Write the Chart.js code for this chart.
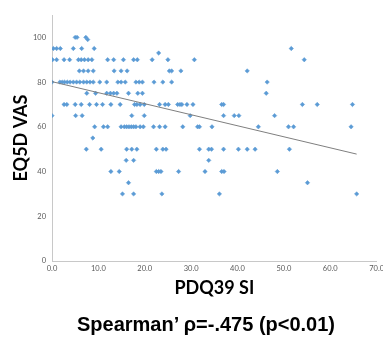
<!DOCTYPE html>
<html>
<head>
<meta charset="utf-8">
<script src="https://cdn.jsdelivr.net/npm/chart.js@4"></script>
<style>
  body { margin: 0; background: #fff; }
  #wrap { position: relative; width: 383px; height: 337px; overflow: hidden; }
  #note {
    position: absolute; left: 206px; top: 314px; transform: translateX(-50%);
    font: bold 20px "Liberation Sans", Arial, sans-serif; line-height: 20px;
    white-space: nowrap; color: #000;
  }
</style>
</head>
<body>
<div id="wrap">
  <canvas id="chart" width="387" height="337"></canvas>
  <div id="note">Spearman’ ρ=-.475 (p&lt;0.01)</div>
</div>
<script>
// --- Data ---
// EQ5D VAS levels, and the PDQ39 SI values of the patients at each level
const vasLevels = [100, 99, 95, 93, 90, 85, 80, 75, 70, 65, 60, 55, 50, 45, 40, 35, 30];
const pdqAtLevel = [
  [5.0, 5.4, 7.3],
  [7.7],
  [0.3, 1.0, 1.8, 4.6, 6.4, 9.1, 51.6],
  [23.0],
  [0.1, 1.0, 2.6, 3.8, 5.7, 6.3, 7.0, 7.8, 8.6, 12.0, 13.3, 15.4, 17.6, 18.4, 21.6, 25.0, 30.7, 54.4],
  [5.9, 6.8, 7.8, 8.9, 13.4, 14.9, 16.2, 25.3, 25.8, 27.8, 42.1],
  [0, 1.7, 2.2, 2.7, 3.3, 3.9, 4.6, 5.3, 6.0, 6.8, 7.5, 8.2, 8.9, 10.3, 11.8, 14.2, 14.9, 15.8,
   18.1, 18.8, 19.5, 22.0, 23.9, 25.8, 46.4],
  [7.5, 9.4, 11.8, 12.6, 13.3, 14.0, 16.5, 18.5, 19.5, 46.2],
  [2.6, 3.2, 5.0, 6.3, 8.1, 9.6, 10.9, 12.7, 14.7, 17.8, 18.3, 19.0, 19.9, 23.2, 24.4, 25.1,
   27.1, 27.6, 28.0, 29.1, 30.4, 36.6, 37.0, 54.0, 57.2, 64.8],
  [0, 5.1, 6.5, 17.2, 19.9, 29.8, 37.0, 39.3, 40.3, 48.0],
  [9.2, 11.1, 12.0, 14.9, 15.6, 16.1, 16.6, 17.1, 17.6, 18.1, 19.0, 19.7, 21.9, 23.2, 24.4,
   28.2, 31.4, 31.8, 34.5, 44.5, 51.0, 52.1, 64.5],
  [8.8],
  [7.4, 10.6, 16.1, 17.2, 18.3, 22.5, 23.9, 24.6, 31.8, 33.8, 34.4, 37.0, 40.2, 42.1, 43.8, 51.2],
  [16.0, 17.6, 33.8],
  [12.7, 14.5, 22.5, 23.0, 23.5, 27.3, 33.0, 36.6, 37.1, 48.6],
  [16.5, 55.1],
  [15.2, 17.6, 23.7, 36.1, 65.7]
];
// linear trend line end points
const trendX = [0, 65.7];
const trendY = [80.2, 47.8];

// axis ranges
const xMin = 0, xMax = 70, xStep = 10;
const yMin = 0, yMax = 110, yStep = 20;

// build point list for the scatter
const points = [];
vasLevels.forEach(function (vas, i) {
  pdqAtLevel[i].forEach(function (pdq) {
    points.push({ x: pdq, y: vas });
  });
});
const trendPoints = trendX.map(function (x, i) { return { x: x, y: trendY[i] }; });

const tickFont = { family: 'Lato, "Liberation Sans", sans-serif', size: 7.5 };
const titleFont = { family: 'Lato, "Liberation Sans", sans-serif', size: 18, weight: 'bold' };

const ctx = document.getElementById('chart').getContext('2d');
const chart = new Chart(ctx, {
  type: 'scatter',
  data: {
    datasets: [
      {
        label: 'Trend',
        type: 'line',
        data: trendPoints,
        borderColor: '#7f7f7f',
        borderWidth: 1,
        pointRadius: 0,
        fill: false,
        order: 1
      },
      {
        label: 'Patients',
        data: points,
        pointStyle: 'rectRot',
        pointRadius: 2.2,
        backgroundColor: '#5b9bd5',
        borderColor: '#5b9bd5',
        borderWidth: 0.5,
        order: 2
      }
    ]
  },
  options: {
    responsive: false,
    animation: false,
    layout: { padding: { top: 15, right: 0, bottom: 33, left: 0 } },
    plugins: {
      legend: { display: false },
      tooltip: { enabled: false }
    },
    scales: {
      x: {
        type: 'linear',
        min: xMin,
        max: xMax,
        grid: { display: false, drawTicks: false },
        border: { display: true, color: '#c8c8c8', width: 1 },
        ticks: {
          stepSize: xStep,
          padding: 3,
          color: '#595959',
          font: tickFont,
          maxRotation: 0,
          callback: function (v) { return v.toFixed(1); }
        },
        title: {
          display: true,
          text: 'PDQ39 SI',
          color: '#000',
          font: titleFont,
          padding: { top: 0, bottom: 5 }
        },
        afterFit: function (s) { s.height = 43; }
      },
      y: {
        type: 'linear',
        min: yMin,
        max: yMax,
        grid: { display: false, drawTicks: false },
        border: { display: true, color: '#c8c8c8', width: 1 },
        ticks: {
          stepSize: yStep,
          includeBounds: false,
          padding: 6,
          color: '#595959',
          font: tickFont
        },
        title: {
          display: true,
          text: 'EQ5D VAS',
          color: '#000',
          font: titleFont,
          padding: { top: 10, bottom: 0 }
        },
        afterFit: function (s) { s.width = 52; }
      }
    }
  }
});
</script>
</body>
</html>
